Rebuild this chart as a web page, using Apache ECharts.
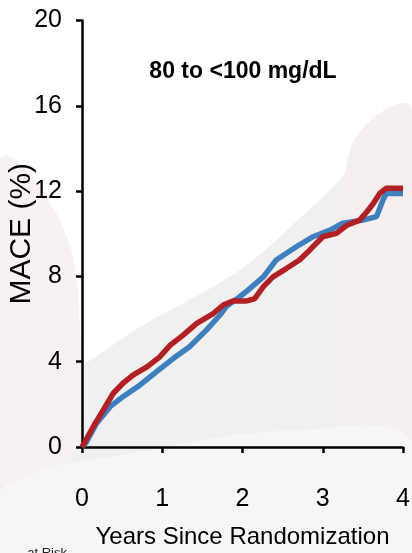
<!DOCTYPE html>
<html>
<head>
<meta charset="utf-8">
<script src="https://cdn.jsdelivr.net/npm/echarts@6/dist/echarts.min.js"></script>
<style>
  html, body { margin: 0; padding: 0; background: #fff; }
  #chart { width: 412px; height: 553px; }
</style>
</head>
<body>
<div id="chart"></div>
<script>
// years since randomization / MACE %
const xTicks = [0, 1, 2, 3, 4];
const yTicks = [0, 4, 8, 12, 16, 20];

const blueYears = [0, 0.05, 0.18, 0.35, 0.51, 0.72, 0.93, 1.14, 1.34, 1.55, 1.72, 1.80, 1.95, 2.05, 2.26, 2.42, 2.67, 2.88, 3.09, 3.25, 3.50, 3.67, 3.75, 3.79, 4.0];
const blueMace  = [0, 0.2, 1.1, 1.89, 2.36, 2.9, 3.53, 4.16, 4.70, 5.48, 6.19, 6.6, 7.0, 7.3, 7.98, 8.77, 9.39, 9.86, 10.17, 10.49, 10.64, 10.8, 11.58, 11.89, 11.89];

const redYears = [0, 0.14, 0.29, 0.39, 0.51, 0.64, 0.81, 0.97, 1.10, 1.26, 1.43, 1.64, 1.76, 1.88, 2.05, 2.15, 2.26, 2.38, 2.55, 2.71, 2.84, 3.00, 3.17, 3.30, 3.46, 3.55, 3.63, 3.71, 3.79, 4.0];
const redMace  = [0, 0.95, 1.89, 2.52, 2.99, 3.38, 3.76, 4.23, 4.78, 5.25, 5.80, 6.27, 6.66, 6.85, 6.85, 6.95, 7.52, 7.98, 8.38, 8.77, 9.24, 9.86, 10.02, 10.4, 10.64, 11.03, 11.42, 11.89, 12.13, 12.13];

const panelTitle = '80 to <100 mg/dL';

const sans = "'Liberation Sans', Arial, sans-serif";
const pair = (xs, ys) => xs.map((x, i) => [x, ys[i]]);

const chart = echarts.init(document.getElementById('chart'));
chart.setOption({
    animation: false,
    backgroundColor: '#fff',
    grid: { left: 82, right: 9, top: 20.5, bottom: 106, containLabel: false, outerBoundsMode: 'none' },
    graphic: [
        // faint watermark behind the plot
        { type: 'polygon', z: -10, silent: true,
          shape: { points: [[0, 440], [120, 340], [240, 270], [320, 200], [412, 120], [412, 553], [0, 553]], smooth: 0.3 },
          style: { fill: '#f1f0f0' } },
        { type: 'polygon', z: -9, silent: true,
          shape: { points: [[0, 160], [60, 220], [80, 330], [70, 460], [0, 480]], smooth: 0.4 },
          style: { fill: '#f7f1f1' } },
        { type: 'polygon', z: -9, silent: true,
          shape: { points: [[350, 150], [412, 110], [412, 553], [370, 553], [340, 400]], smooth: 0.4 },
          style: { fill: '#f5efef' } },
        { type: 'polygon', z: -8, silent: true,
          shape: { points: [[0, 490], [150, 450], [300, 430], [412, 440], [412, 553], [0, 553]], smooth: 0.4 },
          style: { fill: '#f7f6f6' } },
        { type: 'text', x: 243, y: 72, z: 10,
          style: { text: panelTitle, textAlign: 'center', textVerticalAlign: 'middle',
                   font: "bold 23px 'Liberation Sans', Arial, sans-serif", fill: '#000' } },
        { type: 'text', x: 67, y: 553, z: 10,
          style: { text: 'at Risk', textAlign: 'right', textVerticalAlign: 'middle',
                   font: "13px 'Liberation Sans', Arial, sans-serif", fill: '#222' } }
    ],
    xAxis: {
        type: 'value', min: 0, max: 4, interval: 1,
        name: 'Years Since Randomization', nameLocation: 'middle', nameGap: 78, nameMoveOverlap: false,
        nameTextStyle: { fontFamily: sans, fontSize: 24, color: '#000' },
        axisLine: { lineStyle: { color: '#000', width: 2.5 } },
        axisTick: { show: true, inside: false, length: 6, lineStyle: { color: '#000', width: 2.5 } },
        axisLabel: { margin: 40, fontFamily: sans, fontSize: 25, color: '#000',
                     formatter: v => xTicks.includes(v) ? String(v) : '' },
        splitLine: { show: false }
    },
    yAxis: {
        type: 'value', min: 0, max: 20, interval: 4,
        name: 'MACE (%)', nameLocation: 'middle', nameGap: 45, nameRotate: 90, nameMoveOverlap: false,
        nameTextStyle: { fontFamily: sans, fontSize: 30, color: '#000' },
        axisLine: { show: true, lineStyle: { color: '#000', width: 2.5 } },
        axisTick: { show: true, inside: false, length: 6, lineStyle: { color: '#000', width: 2.5 } },
        axisLabel: { margin: 20, fontFamily: sans, fontSize: 25, color: '#000',
                     formatter: v => yTicks.includes(v) ? String(v) : '' },
        splitLine: { show: false }
    },
    series: [
        {
            name: 'blue', type: 'line', data: pair(blueYears, blueMace),
            showSymbol: false, lineStyle: { color: '#3d80bd', width: 5.5 }, z: 2
        },
        {
            name: 'red', type: 'line', data: pair(redYears, redMace),
            showSymbol: false, lineStyle: { color: '#b21f24', width: 5.5 }, z: 3
        }
    ]
});
</script>
</body>
</html>
